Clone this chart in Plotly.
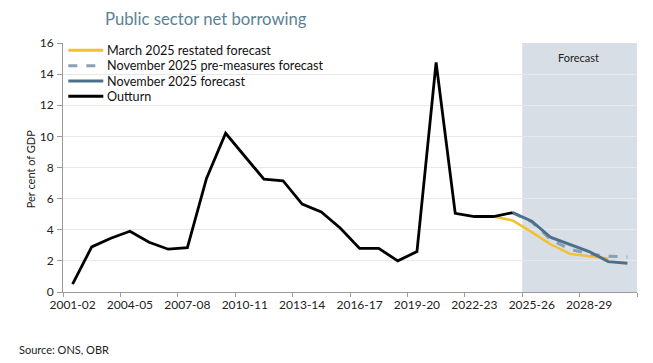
import plotly.graph_objects as go

years = ["2001-02","2002-03","2003-04","2004-05","2005-06","2006-07","2007-08","2008-09",
         "2009-10","2010-11","2011-12","2012-13","2013-14","2014-15","2015-16","2016-17",
         "2017-18","2018-19","2019-20","2020-21","2021-22","2022-23","2023-24","2024-25",
         "2025-26","2026-27","2027-28","2028-29","2029-30","2030-31"]

outturn = [0.5, 2.9, 3.45, 3.9, 3.2, 2.75, 2.85, 7.3, 10.2, 8.7, 7.25, 7.15, 5.65, 5.15,
           4.1, 2.8, 2.8, 2.0, 2.6, 14.75, 5.05, 4.85, 4.85, 5.1]
march_years = ["2023-24","2024-25","2025-26","2026-27","2027-28","2028-29","2029-30"]
march_2025 = [4.85, 4.6, 3.85, 3.05, 2.45, 2.3, 2.15]
nov_years = ["2024-25","2025-26","2026-27","2027-28","2028-29","2029-30","2030-31"]
nov_pre = [5.1, 4.5, 3.35, 2.75, 2.45, 2.3, 2.25]
nov_2025 = [5.1, 4.55, 3.5, 3.05, 2.6, 1.95, 1.85]
y_ticks = [0, 2, 4, 6, 8, 10, 12, 14, 16]

YELLOW = "#f2c12e"
DASH = "#8aa1b5"
BLUE = "#4d6f8c"
FONT = "Lato"

fig = go.Figure()
fig.add_trace(go.Scatter(x=march_years, y=march_2025, mode="lines", name="March 2025 restated forecast",
                         line=dict(color=YELLOW, width=2.5)))
fig.add_trace(go.Scatter(x=nov_years, y=nov_pre, mode="lines", name="November 2025 pre-measures forecast",
                         line=dict(color=DASH, width=3, dash="dash")))
fig.add_trace(go.Scatter(x=nov_years, y=nov_2025, mode="lines", name="November 2025 forecast",
                         line=dict(color=BLUE, width=3)))
fig.add_trace(go.Scatter(x=years[:len(outturn)], y=outturn, mode="lines", name="Outturn",
                         line=dict(color="black", width=2.8)))

# forecast shading
fig.add_shape(type="rect", xref="x", yref="paper", x0=23.5, x1=29.5, y0=0, y1=1,
              fillcolor="#d7dee5", line=dict(width=0), layer="below")

# target pixel positions in the 653x363 window; page body has an 8px margin
OFF = 8
W, H = 653 - OFF, 363 - OFF
PX0, PX1 = 62.7, 636.7
PY0, PY1 = 292.3, 42.7


def px(xp):
    return (xp - PX0) / (PX1 - PX0)


def py(yp):
    return (PY0 - yp) / (PY0 - PY1)


# manual legend
legend_items = [("March 2025 restated forecast", YELLOW, "solid"),
                ("November 2025 pre-measures forecast", DASH, "dash"),
                ("November 2025 forecast", BLUE, "solid"),
                ("Outturn", "black", "solid")]
for i, (txt, col, dsh) in enumerate(legend_items):
    yp = py(50 + i * 15.4)
    fig.add_shape(type="line", xref="paper", yref="paper",
                  x0=px(68), x1=px(103), y0=yp, y1=yp,
                  line=dict(color=col, width=3, dash=dsh))
    fig.add_annotation(text=txt, xref="paper", yref="paper", x=px(105), y=yp,
                       xanchor="left", yanchor="middle", showarrow=False,
                       font=dict(family=FONT, size=12.6, color="#111111"))

fig.add_annotation(text="Forecast", xref="paper", yref="paper", x=px(578), y=py(57),
                   xanchor="center", yanchor="middle",
                   showarrow=False, font=dict(family=FONT, size=11, color="#222222"))

fig.add_annotation(text="Public sector net borrowing", xref="paper", yref="paper",
                   x=px(103), y=py(19), xanchor="left",
                   yanchor="middle", showarrow=False,
                   font=dict(family=FONT, size=16.7, color="#5b8293"))

fig.add_annotation(text="Source: ONS, OBR", xref="paper", yref="paper",
                   x=px(17), y=py(350), xanchor="left",
                   yanchor="middle", showarrow=False,
                   font=dict(family=FONT, size=11, color="#222222"))

fig.add_annotation(text="Per cent of GDP", xref="paper", yref="paper",
                   x=px(31), y=py(169), xanchor="center", yanchor="middle",
                   textangle=-90, showarrow=False,
                   font=dict(family=FONT, size=11, color="#222222"))

fig.update_layout(
    width=W, height=H,
    margin=dict(l=PX0 - OFF, r=W - (PX1 - OFF), t=PY1 - OFF, b=H - (PY0 - OFF), autoexpand=False),
    plot_bgcolor="white", paper_bgcolor="white",
    showlegend=False,
    font=dict(family=FONT, size=12, color="#222222"),
)
fig.update_xaxes(type="category", categoryorder="array", categoryarray=years,
                 range=[-0.5, 29.5], tickson="boundaries", dtick=3, tickangle=0,
                 ticks="outside", ticklen=4, tickcolor="#9a9a9a", automargin=False,
                 ticklabelstandoff=2,
                 showline=True, linecolor="#9a9a9a", linewidth=1,
                 showgrid=False, tickfont=dict(family=FONT, size=12, color="#222222"))
fig.update_yaxes(range=[0, 16], tickvals=y_ticks, ticks="outside", ticklen=5,
                 tickcolor="#9a9a9a", showline=True, linecolor="#9a9a9a", linewidth=1,
                 showgrid=True, gridcolor="#e8e8e8", gridwidth=1, zeroline=False,
                 automargin=False, ticklabelstandoff=1,
                 tickfont=dict(family=FONT, size=12, color="#222222"))

fig.write_html("out.html")
